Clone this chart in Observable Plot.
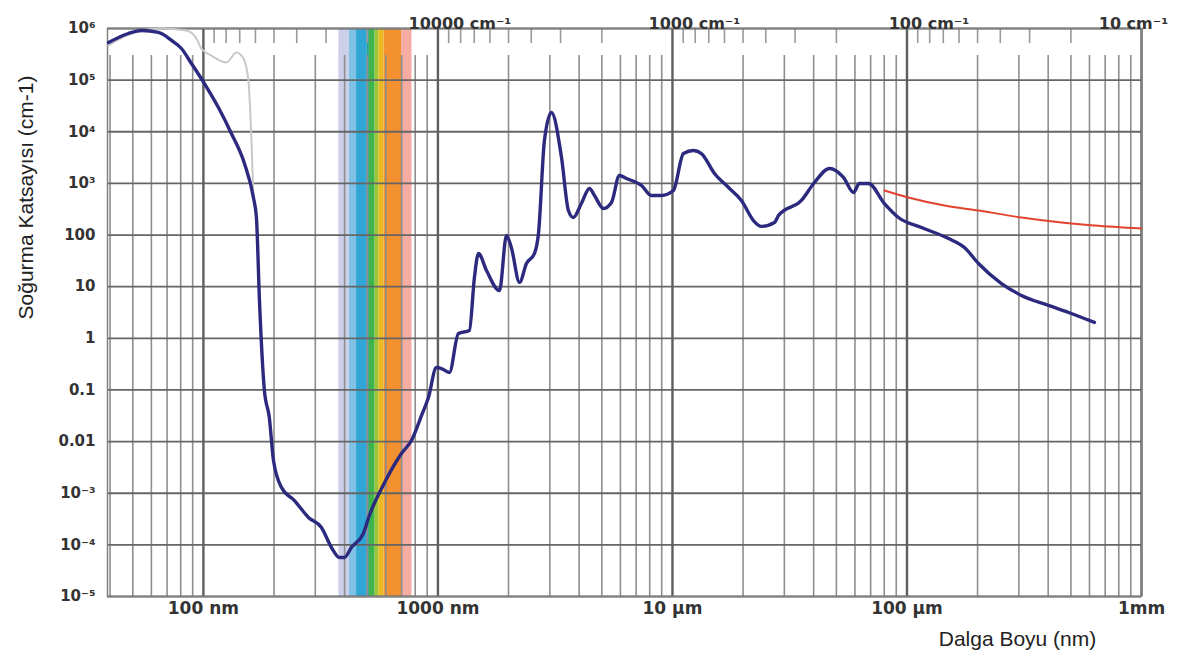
<!DOCTYPE html>
<html><head><meta charset="utf-8">
<script src="https://cdn.jsdelivr.net/npm/d3@7"></script>
<script src="https://cdn.jsdelivr.net/npm/@observablehq/plot@0.6"></script>
<style>body{margin:0;background:#fff;} svg{display:block;}</style>
</head><body><div id="chart"></div>
<script>
// Main absorption curve (liquid water), wavelength in nm, absorption in cm^-1
const mainWavelength = [39.4, 47.9, 54.5, 64.3, 73.1, 80.6, 88.9, 101, 115.9, 131.6, 149.6, 163.4, 168.3, 173.4, 182, 191, 199, 215.4, 244.5, 280.4, 318.6, 351.6, 380.3, 399, 427.6, 481, 510, 583, 699, 771, 851, 911, 985, 1035, 1119, 1223, 1362, 1431, 1489, 1611, 1830, 1960, 2057, 2228, 2385, 2581, 2684, 2845, 3048, 3365, 3600, 3780, 4090, 4426, 4650, 5077, 5494, 5942, 6365, 7380, 8130, 8975, 10090, 11140, 12290, 13290, 15110, 17340, 19690, 22150, 23970, 27230, 28330, 35450, 40320, 46750, 53600, 59150, 62700, 68500, 80140, 92000, 115300, 150300, 175800, 201800, 252900, 307700, 401000, 488500, 630000];
const mainAbsorption = [5.36e5, 8.0e5, 9.15e5, 8.4e5, 5.9e5, 4.1e5, 2.1e5, 8.6e4, 2.95e4, 9270, 2430, 533, 219, 5.41, 0.098, 0.0293, 4.3e-3, 1.29e-3, 7.2e-4, 3.4e-4, 2.17e-4, 8.9e-5, 5.7e-5, 5.7e-5, 8.9e-5, 1.66e-4, 3.7e-4, 1.4e-3, 5.9e-3, 0.0105, 0.032, 0.0714, 0.272, 0.26, 0.218, 1.24, 1.42, 15.1, 44, 20.6, 8.4, 98, 57, 12.1, 28.1, 44, 107, 6780, 2.36e4, 3180, 299, 219, 408, 798, 583, 327, 427, 1421, 1245, 912, 583, 583, 729, 3790, 4340, 3790, 1556, 834, 467, 191, 147, 175, 239, 467, 1042, 1945, 1303, 667, 995, 995, 408, 219, 140, 85.7, 57.4, 28.1, 11.5, 6.76, 4.33, 3.16, 2.03];

// Red curve (far infrared)
const redWavelength = [80140, 101400, 144500, 201800, 307700, 456000, 630000, 1000000];
const redAbsorption = [729, 533, 373, 299, 219, 175, 153, 134];

// Light grey curve (UV)
const greyWavelength = [39.4, 47, 54.5, 66.2, 84.6, 93.4, 98, 108, 125.3, 138.3, 148.2, 155.6, 160.3, 163.4];
const greyAbsorption = [4.69e5, 7.3e5, 9.15e5, 1.0e6, 9.15e5, 6.4e5, 4.1e5, 3.0e5, 2.2e5, 3.43e5, 2.62e5, 9.8e4, 6780, 583];

// Visible spectrum stripes (nm)
const bandFrom = [378, 419, 450, 500, 510, 540, 560, 590, 700];
const bandTo = [419, 450, 500, 510, 540, 560, 590, 700, 775];
const bandColor = ["#cdd0ea", "#7fc2e6", "#2fa6d6", "#23a08e", "#3db54a", "#9cc63a", "#e8bb22", "#f39030", "#f6aca2"];

// Axes
const yTicks = [1e-5, 1e-4, 1e-3, 0.01, 0.1, 1, 10, 100, 1e3, 1e4, 1e5, 1e6];
const yTickLabels = ["10\u207B\u2075", "10\u207B\u2074", "10\u207B\u00B3", "0.01", "0.1", "1", "10", "100", "10\u00B3", "10\u2074", "10\u2075", "10\u2076"];
const xDecades = [100, 1000, 10000, 100000, 1000000];
const xTickLabels = ["100 nm", "1000 nm", "10 \u00B5m", "100 \u00B5m", "1mm"];
const xMinor = [40, 50, 60, 70, 80, 90, 200, 300, 400, 500, 600, 700, 800, 900, 2000, 3000, 4000, 5000, 6000, 7000, 8000, 9000, 20000, 30000, 40000, 50000, 60000, 70000, 80000, 90000, 200000, 300000, 400000, 500000, 600000, 700000, 800000, 900000];
const wavenumberTicks = [10000, 1000, 100, 10];
const wavenumberLabels = ["10000 cm\u207B\u00B9", "1000 cm\u207B\u00B9", "100 cm\u207B\u00B9", "10 cm\u207B\u00B9"];
const wavenumberMinor = [90000, 80000, 70000, 60000, 50000, 40000, 30000, 20000, 9000, 8000, 7000, 6000, 5000, 4000, 3000, 2000, 900, 800, 700, 600, 500, 400, 300, 200, 90, 80, 70, 60, 50, 40, 30, 20];

const mainData = mainWavelength.map((w, i) => ({w, a: mainAbsorption[i]}));
const redData = redWavelength.map((w, i) => ({w, a: redAbsorption[i]}));
const greyData = greyWavelength.map((w, i) => ({w, a: greyAbsorption[i]}));
const bands = bandFrom.map((f, i) => ({from: f, to: bandTo[i], color: bandColor[i]}));
const nmFromWavenumber = wn => 1e7 / wn;

const tickFont = "'DejaVu Sans', 'Liberation Sans', sans-serif";
const titleFont = "'Liberation Sans', Arial, sans-serif";

const chart = Plot.plot({
  width: 1188,
  height: 662,
  marginTop: 28,
  marginRight: 47,
  marginBottom: 66,
  marginLeft: 107,
  x: {type: "log", domain: [39, 1e6], axis: null},
  y: {type: "log", domain: [1e-5, 1e6], axis: null},
  color: {type: "identity"},
  style: {fontFamily: tickFont, background: "#fff"},
  marks: [
    Plot.rect(bands, {x1: "from", x2: "to", fill: "color"}),
    Plot.ruleX(xMinor, {x: d => d, y1: 1e-5, y2: 3e5, stroke: "#8e8e8e", strokeWidth: 1.6}),
    Plot.ruleX(wavenumberMinor, {x: nmFromWavenumber, y1: 1e6, y2: 5.1e5, stroke: "#9a9a9a", strokeWidth: 1.6}),
    Plot.ruleY(yTicks, {y: d => d, stroke: "#666", strokeWidth: 1.8}),
    Plot.ruleX(xDecades, {x: d => d, stroke: "#5e5e5e", strokeWidth: 2.4}),
    Plot.frame({stroke: "#808080", strokeWidth: 1.5}),
    Plot.line(greyData, {x: "w", y: "a", stroke: "#c8c8c8", strokeWidth: 2, curve: "monotone-x"}),
    Plot.line(redData, {x: "w", y: "a", stroke: "#e2432e", strokeWidth: 2, curve: "monotone-x"}),
    Plot.line(mainData, {x: "w", y: "a", stroke: "#2c2a7e", strokeWidth: 3.4, strokeLinejoin: "round", curve: "monotone-x"}),
    Plot.text(yTicks, {y: d => d, text: (d, i) => yTickLabels[i], frameAnchor: "left", dx: -12, textAnchor: "end", fontSize: 15, fontWeight: "bold", fill: "#333"}),
    Plot.text(xDecades, {x: d => d, text: (d, i) => xTickLabels[i], frameAnchor: "bottom", dy: 17, textAnchor: "middle", fontSize: 17, fontWeight: "bold", fill: "#333"}),
    Plot.text(wavenumberTicks.slice(0, 3), {x: nmFromWavenumber, text: (d, i) => wavenumberLabels[i], frameAnchor: "top", dy: -11, dx: 22, textAnchor: "middle", fontSize: 16, fontWeight: "bold", fill: "#333"}),
    Plot.text(wavenumberTicks.slice(3), {x: nmFromWavenumber, text: () => wavenumberLabels[3], frameAnchor: "top", dy: -11, dx: -8, textAnchor: "middle", fontSize: 16, fontWeight: "bold", fill: "#333"}),
    Plot.text(["Soğurma Katsayısı (cm-1)"], {text: d => d, frameAnchor: "top-left", dx: -89, dy: 169, rotate: -90, textAnchor: "middle", fontSize: 21, fill: "#222", fontFamily: titleFont}),
    Plot.text(["Dalga Boyu (nm)"], {text: d => d, frameAnchor: "bottom-right", dx: -124, dy: 49, textAnchor: "middle", fontSize: 21, fill: "#222", fontFamily: titleFont})
  ]
});
document.getElementById("chart").append(chart);
</script>
</body></html>
